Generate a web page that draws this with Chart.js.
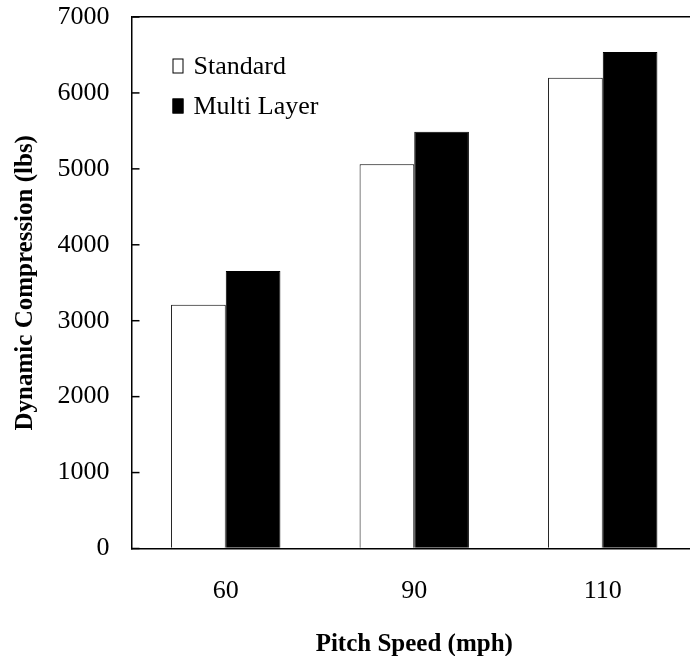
<!DOCTYPE html>
<html><head><meta charset="utf-8">
<script src="https://cdn.jsdelivr.net/npm/chart.js@4/dist/chart.umd.min.js"></script>
<style>
html,body{margin:0;padding:0;overflow:hidden;background:#fff;width:690px;height:656px}
#wrap{position:absolute;left:0;top:0;width:700px;height:656px}
</style>
</head><body><div id="wrap"><canvas id="c"></canvas></div>
<script>
const categories = ['60', '90', '110'];
const seriesNames = ['Standard', 'Multi Layer'];
const standardValues = [3210, 5060, 6200];
const multiLayerValues = [3655, 5490, 6540];
const yMin = 0, yMax = 7000, yStep = 1000;
const xTitle = 'Pitch Speed (mph)';
const yTitle = 'Dynamic Compression (lbs)';

const FONT = "'Liberation Serif', 'Times New Roman', serif";

const insideTicksAndLegend = {
  id: 'insideTicksAndLegend',
  afterDraw(chart) {
    const ctx = chart.ctx, a = chart.chartArea;
    const ys = chart.scales.y;
    ctx.save();
    // inward tick marks on the value axis
    ctx.strokeStyle = '#000';
    ctx.lineWidth = 1.5;
    ys.ticks.forEach(t => {
      const py = ys.getPixelForValue(t.value);
      ctx.beginPath();
      ctx.moveTo(a.left, py);
      ctx.lineTo(a.left + 8, py);
      ctx.stroke();
    });
    // legend inside the plot
    ctx.font = "26px " + FONT;
    ctx.textBaseline = 'middle';
    ctx.textAlign = 'left';
    chart.data.datasets.forEach((ds, i) => {
      const cy = a.top + 49 + i * 40;
      const bx = a.left + 41, bw = 11, bh = 15;
      ctx.fillStyle = ds.backgroundColor;
      ctx.fillRect(bx, cy - bh / 2, bw, bh);
      ctx.strokeStyle = '#000';
      ctx.lineWidth = 1;
      ctx.strokeRect(bx + 0.5, cy - bh / 2 + 0.5, bw - 1, bh - 1);
      ctx.fillStyle = '#000';
      ctx.fillText(ds.label, bx + 21, cy + 1);
    });
    ctx.restore();
  }
};

new Chart(document.getElementById('c'), {
  type: 'bar',
  data: {
    labels: categories,
    datasets: [
      { label: seriesNames[0], data: standardValues, backgroundColor: '#ffffff', borderColor: '#000000', borderWidth: 1 },
      { label: seriesNames[1], data: multiLayerValues, backgroundColor: '#000000', borderColor: '#000000', borderWidth: 1 }
    ]
  },
  options: {
    responsive: true,
    maintainAspectRatio: false,
    animation: false,
    devicePixelRatio: 1,
    layout: { padding: { top: 17, right: 3, bottom: 0, left: 0 } },
    datasets: { bar: { categoryPercentage: 0.58, barPercentage: 1.0 } },
    plugins: { legend: { display: false }, tooltip: { enabled: false } },
    scales: {
      x: {
        afterFit: (s) => { s.height = 107.5; s.paddingLeft = 0; s.paddingRight = 0; },
        grid: { display: false, drawTicks: false },
        border: { display: true, color: '#000', width: 1.5 },
        ticks: { color: '#000', font: { family: FONT, size: 26 }, padding: 27 },
        title: { display: true, text: xTitle, color: '#000', font: { family: FONT, size: 25, weight: 'bold' }, padding: { top: 18, bottom: -4 } }
      },
      y: {
        min: yMin, max: yMax,
        afterFit: (s) => { s.width = 131.5; s.paddingTop = 0; s.paddingBottom = 0; },
        grid: {
          drawTicks: false,
          color: (c) => (c.tick && c.tick.value === yMax) ? '#000' : 'rgba(0,0,0,0)',
          lineWidth: 1.5
        },
        border: { display: true, color: '#000', width: 1.5 },
        ticks: { stepSize: yStep, color: '#000', font: { family: FONT, size: 26 }, padding: 22,
                 callback: (v) => String(v) },
        title: { display: true, text: yTitle, color: '#000', font: { family: FONT, size: 25, weight: 'bold' }, padding: { top: 11, bottom: 17 } }
      }
    }
  },
  plugins: [insideTicksAndLegend]
});
</script>
</body></html>
